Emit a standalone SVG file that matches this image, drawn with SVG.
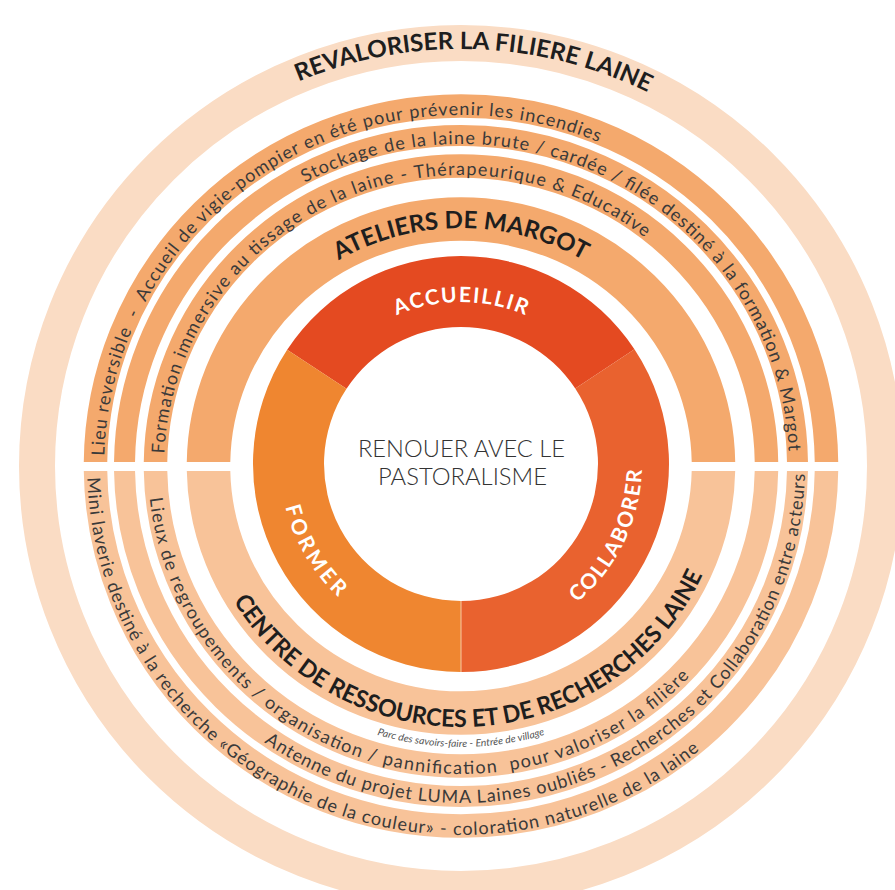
<svg xmlns="http://www.w3.org/2000/svg" width="895" height="890" viewBox="0 0 895 890">
<style>
.lab{font-family:Lato,"Open Sans","Liberation Sans",sans-serif;font-size:18px;fill:#3a3a3a}
.head{font-family:Lato,"Liberation Sans",sans-serif;font-weight:700;font-size:24px;fill:#1e1e1e}
.seg{font-family:Lato,"Liberation Sans",sans-serif;font-weight:700;font-size:21px;fill:#ffffff}
.ctr{font-family:Lato,"Liberation Sans",sans-serif;font-weight:300;font-size:22.5px;fill:#333333}
.small{font-family:Lato,"Liberation Sans",sans-serif;font-style:italic;font-size:10px;fill:#555555}
.ring{fill:none}
.top{stroke:#F4A96D}
.bot{stroke:#F8C399}
</style>
<defs>
<clipPath id="cTop"><rect x="0" y="0" width="895" height="462"/></clipPath>
<clipPath id="cBot"><rect x="0" y="471" width="895" height="419"/></clipPath>
<path id="pTitle" d="M 258.0 100.9 A 420 417 0 0 1 686.7 114.3"/>
<path id="pCtop" d="M 105.4 496.6 A 357 351 0 0 1 635.2 159.6"/>
<path id="pBtop" d="M 275.2 200.6 A 328 322 0 0 1 788.4 485.7"/>
<path id="pAtop" d="M 164.7 485.3 A 297 291 0 0 1 668.8 258.1"/>
<path id="pMtop" d="M 304.2 283.7 A 244 238 0 0 1 617.8 283.7"/>
<path id="pAcc" d="M 368.1 331.3 A 162 162 0 0 1 553.9 331.3"/>
<path id="pCol" d="M 562.2 614.0 A 182 182 0 0 0 641.6 451.4"/>
<path id="pFor" d="M 281.8 489.2 A 182 182 0 0 0 352.1 608.5"/>
<path id="pCbot" d="M 88.1 438.3 A 374 369 0 0 0 728.7 723.7"/>
<path id="pBbot" d="M 235.3 720.3 A 344 337 0 0 0 803.8 437.8"/>
<path id="pAbot" d="M 148 464.9 A 313 308 0 0 0 711.0 651.4"/>
<path id="pMbot" d="M 219.9 576.3 A 266 261 0 0 0 713.2 548.8"/>
<path id="pParc" d="M 340.1 720.7 A 287 282 0 0 0 581.9 720.7"/>
</defs>

<g id="outer-ring">
<ellipse class="ring" cx="461" cy="466" rx="424" ry="423" stroke="#FADCC4" stroke-width="36"/>
<text class="head"><textPath href="#pTitle" startOffset="50%" text-anchor="middle" textLength="360" lengthAdjust="spacingAndGlyphs">REVALORISER LA FILIERE LAINE</textPath></text>
</g>

<g id="rings-top" clip-path="url(#cTop)">
<ellipse class="ring top" cx="461" cy="466" rx="252.5" ry="247" stroke-width="43.5"/>
<ellipse class="ring top" cx="461" cy="466" rx="305.5" ry="300" stroke-width="23.5"/>
<ellipse class="ring top" cx="461" cy="466" rx="336.5" ry="330.5" stroke-width="21"/>
<ellipse class="ring top" cx="461" cy="466" rx="365.5" ry="360" stroke-width="23.5"/>
</g>
<g id="rings-bottom" clip-path="url(#cBot)">
<ellipse class="ring bot" cx="461" cy="466" rx="252.5" ry="247" stroke-width="43.5"/>
<ellipse class="ring bot" cx="461" cy="466" rx="305.5" ry="300" stroke-width="23.5"/>
<ellipse class="ring bot" cx="461" cy="466" rx="336.5" ry="330.5" stroke-width="21"/>
<ellipse class="ring bot" cx="461" cy="466" rx="365.5" ry="360" stroke-width="23.5"/>
</g>

<g id="ring-c-top">
<text class="lab" xml:space="preserve"><textPath href="#pCtop" startOffset="50%" text-anchor="middle" textLength="687">Lieu reversible  -  Accueil de vigie-pompier en été pour prévenir les incendies</textPath></text>
</g>
<g id="ring-b-top">
<text class="lab"><textPath href="#pBtop" startOffset="50%" text-anchor="middle" textLength="658">Stockage de la laine brute / cardée / filée destiné à la formation &amp; Margot</textPath></text>
</g>
<g id="ring-a-top">
<text class="lab"><textPath href="#pAtop" startOffset="50%" text-anchor="middle" textLength="647">Formation immersive au tissage de la laine - Thérapeurique &amp; Educative</textPath></text>
</g>
<g id="ateliers-de-margot">
<text class="head"><textPath href="#pMtop" startOffset="50%" text-anchor="middle" textLength="256" lengthAdjust="spacingAndGlyphs">ATELIERS DE MARGOT</textPath></text>
</g>

<g id="ring-c-bottom">
<text class="lab"><textPath href="#pCbot" startOffset="50%" text-anchor="middle" textLength="830">Mini laverie destiné à la recherche «Géographie de la couleur» - coloration naturelle de la laine</textPath></text>
</g>
<g id="ring-b-bottom">
<text class="lab"><textPath href="#pBbot" startOffset="50%" text-anchor="middle" textLength="736">Antenne du projet LUMA Laines oubliés - Recherches et Collaboration entre acteurs</textPath></text>
</g>
<g id="ring-a-bottom">
<text class="lab" xml:space="preserve"><textPath href="#pAbot" startOffset="50%" text-anchor="middle" textLength="711">Lieux de regroupements / organisation / pannification  pour valoriser la filière</textPath></text>
</g>
<g id="centre-ressources">
<text class="head"><textPath href="#pMbot" startOffset="50%" text-anchor="middle" textLength="573" lengthAdjust="spacingAndGlyphs">CENTRE DE RESSOURCES ET DE RECHERCHES LAINE</textPath></text>
<text class="small"><textPath href="#pParc" startOffset="50%" text-anchor="middle" textLength="170" lengthAdjust="spacingAndGlyphs">Parc des savoirs-faire - Entrée de village</textPath></text>
</g>

<g id="accueillir">
<path d="M 287.15 349.8 A 208 208 0 0 1 634.45 349.2 L 575.25 388.4 A 137 137 0 0 0 346.5 388.8 Z" fill="#E44A21"/>
<text class="seg"><textPath href="#pAcc" startOffset="50%" text-anchor="middle" textLength="132">ACCUEILLIR</textPath></text>
</g>
<g id="collaborer">
<path d="M 634.45 349.2 A 208 208 0 0 1 461 672 L 461 601 A 137 137 0 0 0 575.25 388.4 Z" fill="#E9622F"/>
<text class="seg"><textPath href="#pCol" startOffset="50%" text-anchor="middle" textLength="152">COLLABORER</textPath></text>
</g>
<g id="former">
<path d="M 461 672 A 208 208 0 0 1 287.15 349.8 L 346.5 388.8 A 137 137 0 0 0 461 601 Z" fill="#EF8630"/>
<text class="seg"><textPath href="#pFor" startOffset="50%" text-anchor="middle" textLength="106">FORMER</textPath></text>
</g>
<g id="connectors">
<line x1="461" y1="601" x2="461" y2="672" stroke="#F7C8A6" stroke-width="1"/>
</g>

<g id="centre">
<text class="ctr" x="461.5" y="457" text-anchor="middle" textLength="207" lengthAdjust="spacingAndGlyphs">RENOUER AVEC LE</text>
<text class="ctr" x="462.5" y="485" text-anchor="middle" textLength="169" lengthAdjust="spacingAndGlyphs">PASTORALISME</text>
</g>
</svg>
